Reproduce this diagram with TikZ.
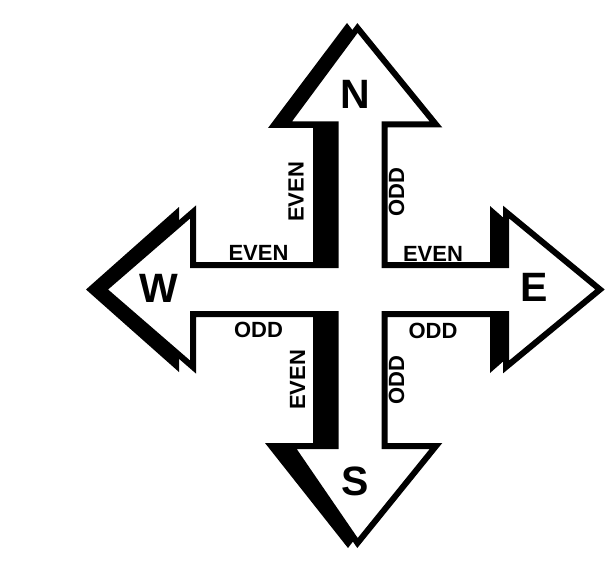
\documentclass[tikz,border=0pt]{standalone}
\usepackage{fontspec}
\setmainfont{Liberation Sans}
\begin{document}
\begin{tikzpicture}[x=1pt,y=-1pt,
  lab/.style={font=\bfseries\fontsize{22}{22}\selectfont, inner sep=0pt},
  big/.style={font=\bfseries\fontsize{41}{41}\selectfont, inner sep=0pt},
  shadowfill/.style={fill=black},
  crossbody/.style={draw=black, line width=6pt, fill=white, miter limit=10}]
\useasboundingbox (0,0) rectangle (605,575);
% shadow
\fill[shadowfill] (347,23) -- (426,124.5) -- (373,124.5) -- (373,265) -- (490,265) -- (490,206)
  -- (585,289.5) -- (490,373) -- (490,314) -- (373,314) -- (373,446) -- (426,446)
  -- (348,548) -- (265,443) -- (313,443) -- (313,314) -- (179,314) -- (179,372)
  -- (86,289.5) -- (179,207) -- (179,265) -- (313,265) -- (313,128) -- (268,128) -- cycle;
% main cross
\path[crossbody] (357.5,28) -- (436,124.5) -- (384.5,124.5) -- (384.5,265) -- (506,265) -- (506,212)
  -- (600,289.5) -- (506,367) -- (506,314) -- (384.5,314) -- (384.5,446) -- (436,446)
  -- (357.5,543) -- (291,446) -- (335.5,446) -- (335.5,314) -- (193,314) -- (193,367)
  -- (103.5,289.5) -- (193,212) -- (193,265) -- (335.5,265) -- (335.5,124.5) -- (286,124.5) -- cycle;
% direction letters
\node[big] (n) at (355,94) {N};
\node[big] (w) at (158.5,288) {W};
\node[big] (e) at (534,287) {E};
\node[big] (s) at (355.5,481.5) {S};
% labels
\node[lab] (wt) at (258.5,253) {EVEN};
\node[lab] (wb) at (258.5,329.5) {ODD};
\node[lab] (et) at (433,254) {EVEN};
\node[lab] (eb) at (433,330.5) {ODD};
\node[lab, rotate=90] (nl) at (296,192) {EVEN};
\node[lab, rotate=90] (nr) at (396.5,192.5) {ODD};
\node[lab, rotate=90] (sl) at (297.5,380) {EVEN};
\node[lab, rotate=90] (sr) at (396.5,380) {ODD};
\end{tikzpicture}
\end{document}
